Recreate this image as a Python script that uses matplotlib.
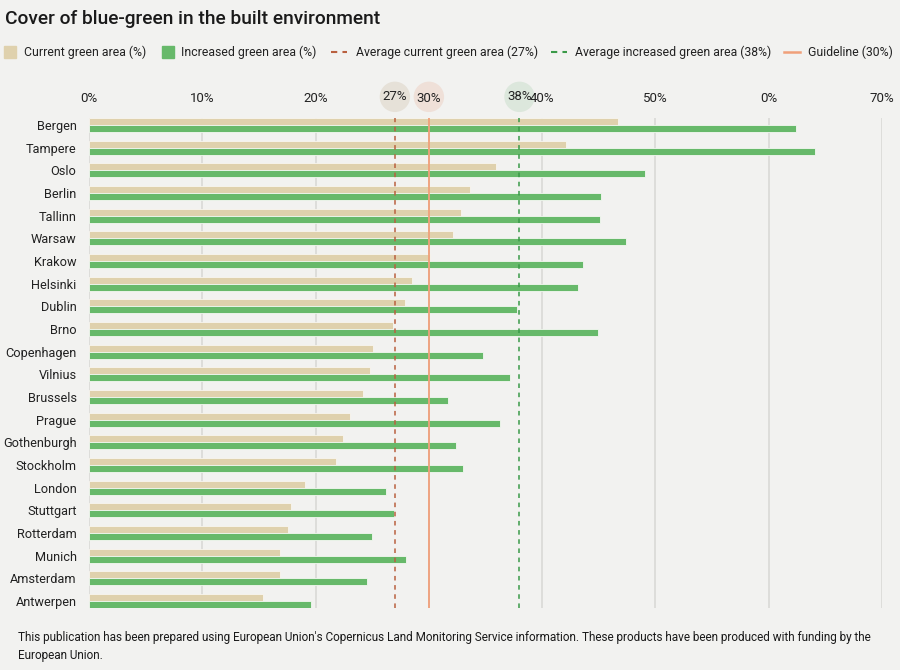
import matplotlib
matplotlib.use('Agg')
import matplotlib.pyplot as plt
from matplotlib.patches import Rectangle
from matplotlib.lines import Line2D
import numpy as np

plt.rcParams['font.family'] = ['Roboto', 'DejaVu Sans']

# data
cities = ["Bergen", "Tampere", "Oslo", "Berlin", "Tallinn", "Warsaw", "Krakow",
          "Helsinki", "Dublin", "Brno", "Copenhagen", "Vilnius", "Brussels",
          "Prague", "Gothenburgh", "Stockholm", "London", "Stuttgart",
          "Rotterdam", "Munich", "Amsterdam", "Antwerpen"]
current = [46.7, 42.1, 35.9, 33.6, 32.8, 32.1, 30.1, 28.5, 27.9, 26.8, 25.1,
           24.8, 24.2, 23.0, 22.4, 21.8, 19.1, 17.8, 17.6, 16.9, 16.9, 15.4]
increased = [62.4, 64.1, 49.1, 45.2, 45.1, 47.4, 43.6, 43.2, 37.8, 44.9, 34.8,
             37.2, 31.7, 36.3, 32.4, 33.0, 26.2, 26.9, 25.0, 28.0, 24.5, 19.6]
avg_current = 27
avg_increased = 38
guideline = 30
tick_vals = [0, 10, 20, 30, 40, 50, 60, 70]
tick_labels = ["0%", "10%", "20%", "30%", "40%", "50%", "0%", "70%"]

bg = '#f2f2f0'
beige = '#dfd1ad'
green = '#67b96a'
c_avg_cur = '#b9603f'
c_avg_inc = '#3a9a48'
c_guide = '#f0a07a'
txt_c = '#222222'

fig = plt.figure(figsize=(9, 6.7), dpi=100, facecolor=bg)
ax = fig.add_axes([0.0989, 0.0925, 0.8811, 0.7315], facecolor=bg)

y = np.arange(len(cities))
h = 0.31
ax.barh(y - h / 2, current, height=h, color=beige, edgecolor='#f8f6f0', linewidth=0.6, zorder=2)
ax.barh(y + h / 2, increased, height=h, color=green, edgecolor='#f4f8f2', linewidth=0.6, zorder=2)

ax.set_xlim(0, 70)
ax.set_ylim(len(cities) - 1 + 0.31, -0.31)
ax.set_yticks(y)
ax.set_yticklabels(cities, fontsize=9.2, color=txt_c)
ax.tick_params(axis='y', length=0, pad=9)

ax.xaxis.tick_top()
ax.set_xticks(tick_vals)
ax.set_xticklabels(tick_labels, fontsize=9.5, color=txt_c)
ax.tick_params(axis='x', length=0, pad=9.5)
ax.grid(axis='x', color='#d9d9d6', linewidth=1.2, zorder=0)
ax.grid(axis='y', visible=False)
for s in ax.spines.values():
    s.set_visible(False)

# reference lines
ax.axvline(avg_current, color=c_avg_cur, linestyle=(0, (3, 3)), linewidth=1.1, zorder=3)
ax.axvline(guideline, color=c_guide, linestyle='-', linewidth=1.3, zorder=3)
ax.axvline(avg_increased, color=c_avg_inc, linestyle=(0, (3, 3)), linewidth=1.1, zorder=3)

# circled markers over the axis
xt = ax.get_xaxis_transform()
circle_vals = [avg_current, guideline, avg_increased]
circle_cols = ['#e6e1d8', '#efe0d8', '#dce7dc']
ax.scatter(circle_vals, [1.043] * 3, s=480, c=circle_cols, transform=xt,
           clip_on=False, zorder=0, linewidths=0)
for val in [avg_current, avg_increased]:
    ax.text(val, 1.043, f"{val}%", transform=xt, ha='center', va='center',
            fontsize=9.5, color=txt_c, zorder=5)

# title
fig.text(0.006, 0.971, "Cover of blue-green in the built environment",
         fontsize=13.8, fontweight='medium', color='#1a1a1a', va='center', ha='left')

# legend (placed by hand)
ly = 1 - 52 / 670
W, H = 900, 670
fig.add_artist(Rectangle((4 / W, ly - 6 / H), 12 / W, 12 / H, color=beige, transform=fig.transFigure))
fig.add_artist(Rectangle((162 / W, ly - 6 / H), 12 / W, 12 / H, color=green, transform=fig.transFigure))
fig.add_artist(Line2D([331 / W, 347 / W], [ly, ly], color=c_avg_cur, linestyle=(0, (3, 2.5)),
                      linewidth=1.5, transform=fig.transFigure))
fig.add_artist(Line2D([551 / W, 567 / W], [ly, ly], color=c_avg_inc, linestyle=(0, (3, 2.5)),
                      linewidth=1.5, transform=fig.transFigure))
fig.add_artist(Line2D([784 / W, 800 / W], [ly, ly], color=c_guide, linewidth=1.8,
                      transform=fig.transFigure))
leg_labels = ["Current green area (%)", "Increased green area (%)",
              "Average current green area (27%)", "Average increased green area (38%)",
              "Guideline (30%)"]
leg_x = [24, 181, 356, 575, 808]
for lx, lab in zip(leg_x, leg_labels):
    fig.text(lx / W, ly, lab, fontsize=8.8, color=txt_c, va='center', ha='left')

# footer
fig.text(0.02, 0.035, "This publication has been prepared using European Union's Copernicus Land "
         "Monitoring Service information. These products have been produced with funding by the\n"
         "European Union.", fontsize=8.5, color='#1a1a1a', va='center', ha='left',
         linespacing=1.5)

fig.savefig("out.png", dpi=100, facecolor=bg)
